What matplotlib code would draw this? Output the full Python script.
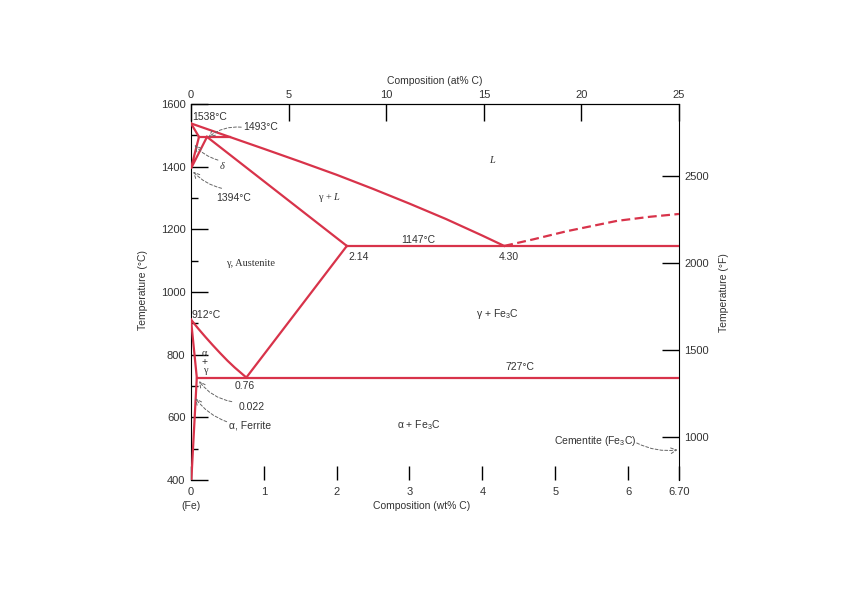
import matplotlib
matplotlib.use("Agg")
import matplotlib.pyplot as plt

plt.rcParams['font.family'] = ['Liberation Sans', 'DejaVu Sans']
plt.rcParams['mathtext.fontset'] = 'custom'
plt.rcParams['mathtext.rm'] = 'Liberation Sans'
plt.rcParams['mathtext.it'] = 'Liberation Serif:italic'
plt.rcParams['mathtext.default'] = 'regular'

RED = '#d8334a'
TXT = '#333333'
ARR = '#666666'

# phase boundaries (wt% C, deg C)
liquidus_wt = [0, 0.53, 1.0, 1.5, 2.0, 2.5, 3.0, 3.5, 4.0, 4.30]
liquidus_T = [1538, 1495, 1457, 1416, 1374, 1329, 1282, 1233, 1180, 1147]

cem_liq_wt = [4.30, 4.70, 5.16, 5.85, 6.30, 6.70]
cem_liq_T = [1147, 1168, 1194, 1227, 1240, 1249]

solidus_wt = [0.22, 2.14]
solidus_T = [1495, 1147]

delta_sol_wt = [0, 0.11]
delta_sol_T = [1538, 1495]

peritectic_wt = [0.11, 0.53]
peritectic_T = [1495, 1495]

delta_gamma_wt = [0.11, 0, 0.22]
delta_gamma_T = [1495, 1394, 1495]

acm_wt = [2.14, 0.76]
acm_T = [1147, 727]

a3_wt = [0, 0.1, 0.2, 0.3, 0.4, 0.5, 0.6, 0.76]
a3_T = [912, 883, 856, 830, 805, 781, 759, 727]

alpha_wt = [0, 0.08, 0.005]
alpha_T = [912, 727, 400]

eutectoid_wt = [0.08, 6.70]
eutectoid_T = [727, 727]

eutectic_wt = [2.14, 6.70]
eutectic_T = [1147, 1147]

wt_ticks = [0, 1, 2, 3, 4, 5, 6, 6.70]
wt_labels = ['0', '1', '2', '3', '4', '5', '6', '6.70']
at_ticks = [0, 5, 10, 15, 20, 25]
degF_ticks = [1000, 1500, 2000, 2500]

fig = plt.figure(figsize=(8.48, 5.99), dpi=100)
ax = fig.add_axes([0.2252, 0.1987, 0.5755, 0.6277])

solid = [(liquidus_wt, liquidus_T), (solidus_wt, solidus_T), (delta_sol_wt, delta_sol_T),
         (peritectic_wt, peritectic_T), (delta_gamma_wt, delta_gamma_T), (acm_wt, acm_T),
         (a3_wt, a3_T), (alpha_wt, alpha_T), (eutectoid_wt, eutectoid_T),
         (eutectic_wt, eutectic_T)]
for xs, ys in solid:
    ax.plot(xs, ys, color=RED, lw=1.6, solid_joinstyle='miter', zorder=3)
ax.plot(cem_liq_wt, cem_liq_T, color=RED, lw=1.6, ls=(0, (4, 2)), zorder=3)

ax.set_xlim(0, 6.70)
ax.set_ylim(400, 1600)
ax.spines['bottom'].set_visible(False)
ax.spines['right'].set_visible(False)

ax.set_xticks(wt_ticks)
ax.set_xticklabels(wt_labels)
ax.set_yticks(range(400, 1601, 200))
ax.set_yticks(range(500, 1600, 200), minor=True)
ax.tick_params(axis='x', direction='in', length=10, width=1, pad=5, labelsize=8, labelcolor=TXT)
ax.tick_params(axis='y', which='major', direction='in', length=12, width=1, pad=4,
               labelsize=8, labelcolor=TXT)
ax.tick_params(axis='y', which='minor', direction='in', length=5, width=1)

top = ax.secondary_xaxis('top', functions=(lambda w: w * 25 / 6.70, lambda a: a * 6.70 / 25))
top.set_xticks(at_ticks)
top.tick_params(direction='in', length=12, width=1, pad=3, labelsize=8, labelcolor=TXT)

right = ax.secondary_yaxis('right', functions=(lambda c: c * 9 / 5 + 32, lambda f: (f - 32) * 5 / 9))
right.set_yticks(degF_ticks)
right.tick_params(direction='in', length=12, width=1, pad=4, labelsize=8, labelcolor=TXT)

fs = 7.5
fig.text(435 / 848, 1 - 81 / 599, 'Composition (at% C)', ha='center', va='center', fontsize=fs, color=TXT)
fig.text(422 / 848, 1 - 506 / 599, 'Composition (wt% C)', ha='center', va='center', fontsize=fs, color=TXT)
fig.text(191 / 848, 1 - 506 / 599, '(Fe)', ha='center', va='center', fontsize=fs, color=TXT)
fig.text(143 / 848, 1 - 290 / 599, 'Temperature (°C)', rotation=90, ha='center', va='center', fontsize=fs, color=TXT)
fig.text(724 / 848, 1 - 293 / 599, 'Temperature (°F)', rotation=90, ha='center', va='center', fontsize=fs, color=TXT)

labels = [
    (0.02, 1558, '1538°C', 'left', 'Liberation Sans', 'normal'),
    (0.72, 1526, '1493°C', 'left', 'Liberation Sans', 'normal'),
    (0.43, 1402, 'δ', 'center', 'Liberation Serif', 'italic'),
    (0.59, 1300, '1394°C', 'center', 'Liberation Sans', 'normal'),
    (1.90, 1300, 'γ + $\\mathit{L}$', 'center', 'Liberation Serif', 'normal'),
    (4.13, 1419, 'L', 'center', 'Liberation Serif', 'italic'),
    (3.12, 1166, '1147°C', 'center', 'Liberation Sans', 'normal'),
    (2.16, 1111, '2.14', 'left', 'Liberation Sans', 'normal'),
    (4.36, 1113, '4.30', 'center', 'Liberation Sans', 'normal'),
    (0.82, 1092, 'γ, Austenite', 'center', 'Liberation Serif', 'normal'),
    (4.20, 930, 'γ + Fe$_3$C', 'center', 'Liberation Sans', 'normal'),
    (4.51, 762, '727°C', 'center', 'Liberation Sans', 'normal'),
    (3.12, 576, 'α + Fe$_3$C', 'center', 'Liberation Sans', 'normal'),
    (0.01, 927, '912°C', 'left', 'Liberation Sans', 'normal'),
    (0.19, 805, 'α', 'center', 'Liberation Serif', 'normal'),
    (0.19, 778, '+', 'center', 'Liberation Sans', 'normal'),
    (0.19, 751, 'γ', 'center', 'Liberation Serif', 'normal'),
    (0.74, 700, '0.76', 'center', 'Liberation Sans', 'normal'),
    (0.84, 633, '0.022', 'center', 'Liberation Sans', 'normal'),
    (0.81, 573, 'α, Ferrite', 'center', 'Liberation Sans', 'normal'),
    (5.55, 525, 'Cementite (Fe$_3$C)', 'center', 'Liberation Sans', 'normal'),
]
for x, y, s, ha, fam, sty in labels:
    ax.text(x, y, s, ha=ha, va='center', fontsize=fs, color=TXT, family=[fam, 'DejaVu Sans'],
            style=sty, zorder=4)

arrows = [
    ((0.69, 1526), (0.24, 1494), 0.2),
    ((0.37, 1421), (0.05, 1469), -0.15),
    ((0.42, 1331), (0.03, 1384), -0.15),
    ((0.56, 650), (0.11, 716), -0.2),
    ((0.49, 586), (0.06, 661), -0.15),
    ((6.12, 518), (6.68, 496), 0.15),
]
for start, end, rad in arrows:
    ax.annotate('', xy=end, xytext=start,
                arrowprops=dict(arrowstyle='->', color=ARR, lw=0.7, linestyle=(0, (3, 2)),
                                connectionstyle='arc3,rad=%s' % rad, shrinkA=0, shrinkB=0))

fig.savefig('out.png', dpi=100, facecolor='white')
